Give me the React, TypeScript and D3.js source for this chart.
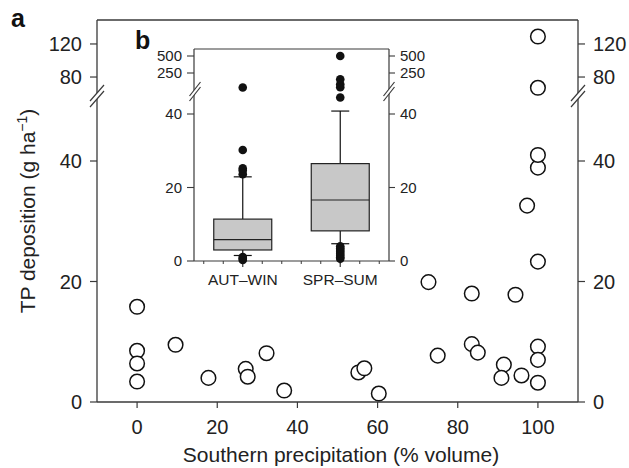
import React from 'react';
import * as d3 from 'd3';

// Main scatter: southern precipitation (% volume) vs TP deposition (g ha-1)
const precipitation = [0, 0, 0, 0, 9.6, 17.8, 27.1, 27.6, 32.3, 36.7, 55.2, 56.7, 60.3, 72.7, 75.0, 83.5, 83.5, 85.0, 94.4, 91.5, 90.9, 95.9, 97.3, 100, 100, 100, 100, 100, 100, 100, 100];
const deposition = [15.8, 8.5, 6.4, 3.4, 9.5, 4.0, 5.5, 4.2, 8.1, 1.9, 4.9, 5.6, 1.4, 19.9, 7.7, 18.0, 9.6, 8.2, 17.8, 6.2, 4.0, 4.4, 32.6, 23.3, 38.9, 41.0, 67, 129, 9.2, 7.0, 3.2];

const xTicks = [0, 20, 40, 60, 80, 100];
const yTicksLower = [0, 20, 40];
const yTicksUpper = [80, 120];

// Inset box plot
const seasons = ['AUT\u2013WIN', 'SPR\u2013SUM'];
const whiskerLow = [1.5, 4.7];
const q1 = [3.0, 8.2];
const median = [5.8, 16.6];
const q3 = [11.4, 26.5];
const whiskerHigh = [22.9, 40.8];
const outliersAutWin = [0.3, 0.7, 1.1, 23.6, 24.6, 25.2, 30.2, 47.2];
const outliersSprSum = [0.6, 1.0, 1.5, 2.0, 2.5, 3.0, 3.5, 4.0, 44.5, 47.3, 84, 157, 500];
const insetTicksLower = [0, 20, 40];
const insetTicksUpper = [250, 500];

const FONT = '"Liberation Sans", Arial, Helvetica, sans-serif';
const TXT = '#222';
const LINE = '#3a3a3a';

export default function App() {
  // main plot geometry
  const L = 97, R = 578, T = 20, B = 402;
  const x = d3.scaleLinear().domain([-10, 110]).range([L, R]);
  const yLo = d3.scaleLinear().domain([0, 50]).range([B, 100.75]);
  const yHi = d3.scaleLinear().domain([62, 149]).range([91.9, T]);
  const yMain = (v: number) => (v <= 55 ? yLo(v) : yHi(v));

  // inset geometry
  const iL = 194, iR = 389, iT = 49, iB = 261;
  const iu = d3.scaleLinear().domain([0, 2]).range([iL, iR]);
  const ix = d3.scalePoint<string>().domain(seasons).range([iL, iR]).padding(0.5);
  const iyLo = d3.scaleLinear().domain([0, 46]).range([iB, iB - 46 * 3.675]);
  const iyHi = d3.scaleLinear().domain([50, 600]).range([86.6, 49.2]);
  const iy = (v: number) => (v < 50 ? iyLo(v) : iyHi(v));
  const minorTicks = d3.range(0.1, 2.0, 0.2);
  const boxW = 58;
  const capW = 18;
  const outliers = [outliersAutWin, outliersSprSum];

  const brk = (cx: number, cy: number, w: number, h: number, gap: number, key: string) => (
    <g key={key}>
      <polygon
        points={`${cx - w},${cy - gap / 2 + h} ${cx + w},${cy - gap / 2 - h} ${cx + w},${cy + gap / 2 - h} ${cx - w},${cy + gap / 2 + h}`}
        fill="#fff"
      />
      <line x1={cx - w} y1={cy - gap / 2 + h} x2={cx + w} y2={cy - gap / 2 - h} stroke={LINE} strokeWidth={1.2} />
      <line x1={cx - w} y1={cy + gap / 2 + h} x2={cx + w} y2={cy + gap / 2 - h} stroke={LINE} strokeWidth={1.2} />
    </g>
  );

  return (
    <svg width={629} height={468} style={{ position: 'absolute', left: 0, top: 0, background: '#fff' }} fontFamily={FONT}>
      <rect x={0} y={0} width={629} height={468} fill="#fff" />
      {/* main frame */}
      <g stroke={LINE} strokeWidth={1.3} fill="none">
        <line x1={L} y1={T} x2={R} y2={T} />
        <line x1={L} y1={B} x2={R} y2={B} />
        <line x1={L} y1={T} x2={L} y2={B} />
        <line x1={R} y1={T} x2={R} y2={B} />
      </g>
      {/* x ticks */}
      {xTicks.map((t) => (
        <g key={'xt' + t}>
          <line x1={x(t)} x2={x(t)} y1={B} y2={B + 6} stroke={LINE} strokeWidth={1.2} />
          <text x={x(t)} y={434} textAnchor="middle" fontSize={20} fill={TXT}>{t}</text>
        </g>
      ))}
      {/* y ticks both sides */}
      {[...yTicksLower, ...yTicksUpper].map((t) => {
        const yy = yMain(t);
        return (
          <g key={'yt' + t}>
            <line x1={L - 7} x2={L} y1={yy} y2={yy} stroke={LINE} strokeWidth={1.2} />
            <line x1={R} x2={R + 7} y1={yy} y2={yy} stroke={LINE} strokeWidth={1.2} />
            <text x={82} y={yy} dy="0.36em" textAnchor="end" fontSize={20} fill={TXT}>{t}</text>
            <text x={593} y={yy} dy="0.36em" textAnchor="start" fontSize={20} fill={TXT}>{t}</text>
          </g>
        );
      })}
      {brk(L, 96, 7, 8, 6, 'bl')}
      {brk(R, 96, 7, 8, 6, 'br')}
      {/* points */}
      {precipitation.map((p, i) => (
        <circle key={'pt' + i} cx={x(p)} cy={yMain(deposition[i])} r={7.3} fill="#fff" stroke="#111" strokeWidth={1.5} />
      ))}
      {/* axis titles */}
      <text x={341} y={462} textAnchor="middle" fontSize={21} fill={TXT}>Southern precipitation (% volume)</text>
      <text transform="translate(35,211) rotate(-90)" textAnchor="middle" fontSize={21} fill={TXT}>
        TP deposition (g ha<tspan fontSize={14} dy={-8}>{'\u22121'}</tspan><tspan dy={8}>)</tspan>
      </text>
      <text x={11} y={26.5} fontSize={25} fontWeight="bold" fill="#111">a</text>

      {/* inset */}
      <rect x={iL} y={iT} width={iR - iL} height={iB - iT} fill="#fff" />
      <g stroke={LINE} strokeWidth={1.2} fill="none">
        <line x1={iL} y1={iT} x2={iR} y2={iT} />
        <line x1={iL} y1={iB} x2={iR} y2={iB} />
        <line x1={iL} y1={iT} x2={iL} y2={iB} />
        <line x1={iR} y1={iT} x2={iR} y2={iB} />
      </g>
      {minorTicks.map((u, i) => (
        <line key={'mt' + i} x1={iu(u)} x2={iu(u)} y1={iB} y2={iB + 3} stroke={LINE} strokeWidth={1} />
      ))}
      {[...insetTicksLower, ...insetTicksUpper].map((t) => {
        const yy = iy(t);
        return (
          <g key={'it' + t}>
            <line x1={iL - 7} x2={iL} y1={yy} y2={yy} stroke={LINE} strokeWidth={1.1} />
            <line x1={iR} x2={iR + 6} y1={yy} y2={yy} stroke={LINE} strokeWidth={1.1} />
            <text x={182} y={yy} dy="0.36em" textAnchor="end" fontSize={15} fill={TXT}>{t}</text>
            <text x={400} y={yy} dy="0.36em" textAnchor="start" fontSize={15} fill={TXT}>{t}</text>
          </g>
        );
      })}
      {brk(iL + 1, 91.5, 5.5, 7, 5, 'ibl')}
      {brk(iR, 91.5, 5.5, 7, 5, 'ibr')}
      {seasons.map((s, i) => {
        const cx = ix(s) as number;
        return (
          <g key={'box' + i}>
            <line x1={cx} x2={cx} y1={iB} y2={iB + 6} stroke={LINE} strokeWidth={1.2} />
            <line x1={cx} x2={cx} y1={iy(whiskerLow[i])} y2={iy(q1[i])} stroke="#111" strokeWidth={1.2} />
            <line x1={cx} x2={cx} y1={iy(q3[i])} y2={iy(whiskerHigh[i])} stroke="#111" strokeWidth={1.2} />
            <line x1={cx - capW / 2} x2={cx + capW / 2} y1={iy(whiskerLow[i])} y2={iy(whiskerLow[i])} stroke="#111" strokeWidth={1.2} />
            <line x1={cx - capW / 2} x2={cx + capW / 2} y1={iy(whiskerHigh[i])} y2={iy(whiskerHigh[i])} stroke="#111" strokeWidth={1.2} />
            <rect x={cx - boxW / 2} y={iy(q3[i])} width={boxW} height={iy(q1[i]) - iy(q3[i])} fill="#c8c8c8" stroke="#222" strokeWidth={1.2} />
            <line x1={cx - boxW / 2} x2={cx + boxW / 2} y1={iy(median[i])} y2={iy(median[i])} stroke="#222" strokeWidth={1.2} />
            {outliers[i].map((v, j) => (
              <circle key={'o' + j} cx={cx} cy={iy(v)} r={4.3} fill="#111" />
            ))}
            <text x={cx} y={285} textAnchor="middle" fontSize={15.5} fill={TXT}>{s}</text>
          </g>
        );
      })}
      <text x={135} y={49} fontSize={25} fontWeight="bold" fill="#111">b</text>
    </svg>
  );
}
